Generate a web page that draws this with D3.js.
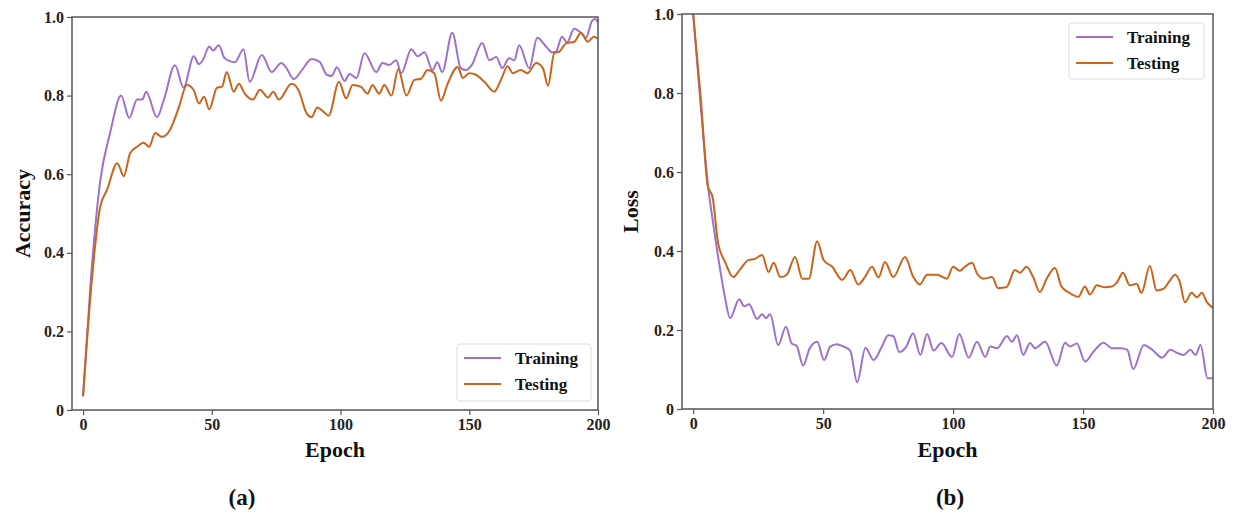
<!DOCTYPE html>
<html>
<head>
<meta charset="utf-8">
<script src="https://cdn.jsdelivr.net/npm/d3@7/dist/d3.min.js"></script>
<style>
  html, body { margin: 0; padding: 0; background: #fff; }
  svg { display: block; }
  text { font-family: "Liberation Serif", "Times New Roman", serif; font-weight: bold; }
</style>
</head>
<body>
<svg id="chart" width="1233" height="514"></svg>
<script>
// ---------- DATA ----------
const seriesNames = ["Training", "Testing"];
const xTicks = [0, 50, 100, 150, 200];
const yTicks = [0, 0.2, 0.4, 0.6, 0.8, 1.0];
const yTickLabels = ["0", "0.2", "0.4", "0.6", "0.8", "1.0"];
const panelLabels = ["(a)", "(b)"];
const yTitles = ["Accuracy", "Loss"];
const xTitle = "Epoch";

// Accuracy - Training
const accTrainEpoch = [0, 3, 6.6, 10.5, 14.8, 17.9, 21, 23, 24.5, 28.7, 31.4, 35.7, 39, 43, 45, 46.5, 49, 50.5, 52.7, 55, 59, 62.3, 64.7, 69.4, 73.3, 77, 79, 81.8, 85, 88.8, 91.9, 94.6, 96.5, 98.6, 101.6, 103.5, 106.2, 109.3, 113.9, 116.3, 118.9, 121.6, 123.6, 127.5, 130, 132.6, 135.7, 137.6, 139.5, 143.4, 146.7, 148.7, 151, 155, 157.8, 160.5, 162.8, 165.5, 167.5, 169.4, 173.3, 176.4, 179.8, 182.2, 183.7, 186, 188, 190.7, 193.3, 195.3, 197.7, 199, 200];
const accTrainVal   = [0.035, 0.33, 0.58, 0.705, 0.80, 0.743, 0.79, 0.79, 0.81, 0.745, 0.79, 0.877, 0.82, 0.90, 0.88, 0.89, 0.925, 0.915, 0.928, 0.895, 0.885, 0.918, 0.835, 0.903, 0.86, 0.883, 0.87, 0.842, 0.865, 0.893, 0.886, 0.853, 0.85, 0.872, 0.837, 0.855, 0.845, 0.908, 0.86, 0.883, 0.878, 0.89, 0.857, 0.918, 0.90, 0.91, 0.865, 0.885, 0.86, 0.96, 0.87, 0.865, 0.878, 0.934, 0.89, 0.898, 0.87, 0.895, 0.89, 0.928, 0.87, 0.947, 0.925, 0.91, 0.912, 0.95, 0.935, 0.97, 0.96, 0.947, 0.99, 0.995, 0.985];

// Accuracy - Testing
const accTestEpoch = [0, 3, 6.6, 9.3, 13.3, 15.8, 18.3, 21, 23.5, 25.7, 28, 30.6, 33.7, 37.2, 40.3, 42.9, 45, 47, 49, 52, 54, 55.8, 58.5, 60.5, 62.8, 66, 68.7, 71.9, 73.9, 76, 81, 83.6, 86.8, 88.7, 91, 93.2, 95.4, 99.4, 102.2, 104.7, 108, 110.5, 112.4, 115, 117, 119.8, 122.4, 125.6, 128.7, 131.3, 133.8, 136.4, 139, 141.6, 145.5, 147.5, 150, 152.6, 155.9, 159.7, 162.3, 164.9, 166.9, 170, 172.6, 176, 178.6, 180.6, 183, 185, 187.6, 190.8, 193.4, 196, 198.4, 200];
const accTestVal   = [0.035, 0.30, 0.515, 0.56, 0.628, 0.595, 0.654, 0.67, 0.68, 0.67, 0.705, 0.695, 0.712, 0.77, 0.827, 0.815, 0.78, 0.797, 0.765, 0.82, 0.823, 0.86, 0.81, 0.83, 0.805, 0.79, 0.815, 0.795, 0.81, 0.79, 0.83, 0.815, 0.755, 0.745, 0.77, 0.76, 0.749, 0.835, 0.793, 0.827, 0.822, 0.805, 0.827, 0.805, 0.827, 0.80, 0.867, 0.80, 0.84, 0.843, 0.865, 0.857, 0.787, 0.83, 0.873, 0.845, 0.857, 0.853, 0.835, 0.81, 0.84, 0.875, 0.857, 0.865, 0.857, 0.883, 0.87, 0.825, 0.908, 0.912, 0.933, 0.937, 0.96, 0.937, 0.95, 0.945];

// Loss - Training
const lossTrainEpoch = [0, 3, 5.8, 7.7, 10.4, 12.3, 14.2, 17.7, 19.6, 21.5, 24.6, 26.5, 28, 29.6, 32.7, 35.7, 37.9, 39.8, 42.3, 44.8, 47.7, 50.4, 52.7, 55.3, 57.8, 60.4, 63.1, 66.3, 69.4, 72.6, 75, 77, 79.3, 82, 84.6, 87.4, 90, 92.5, 95.5, 99.6, 102.4, 106, 109.2, 112.4, 114.3, 117, 120.7, 122.6, 124.6, 127, 129.6, 131.5, 135.4, 139.9, 143.1, 145, 147.6, 150.8, 154, 157.9, 161, 164.4, 167, 169.3, 173.4, 176.6, 180.4, 183.6, 186.2, 188.7, 191.3, 193.3, 195.2, 197.9, 200];
const lossTrainVal   = [1.0, 0.76, 0.56, 0.47, 0.352, 0.28, 0.23, 0.278, 0.26, 0.265, 0.228, 0.24, 0.23, 0.24, 0.162, 0.208, 0.166, 0.16, 0.11, 0.153, 0.17, 0.124, 0.158, 0.164, 0.158, 0.148, 0.068, 0.155, 0.124, 0.158, 0.187, 0.185, 0.144, 0.158, 0.192, 0.137, 0.19, 0.148, 0.167, 0.132, 0.19, 0.13, 0.17, 0.132, 0.158, 0.154, 0.185, 0.17, 0.187, 0.137, 0.167, 0.154, 0.17, 0.11, 0.168, 0.158, 0.166, 0.12, 0.145, 0.168, 0.154, 0.154, 0.15, 0.101, 0.162, 0.15, 0.13, 0.15, 0.142, 0.137, 0.15, 0.137, 0.162, 0.078, 0.078];

// Loss - Testing
const lossTestEpoch = [0, 3, 5.6, 7.5, 9.6, 12.3, 15.4, 18, 21.2, 23.8, 26.5, 29, 31, 33.5, 36, 39.2, 42, 44.5, 47.7, 50.2, 53.5, 57.3, 60.5, 63.5, 66, 68.8, 71.3, 73.8, 77, 81.5, 84.7, 87.2, 90, 93.8, 97.6, 100, 102.6, 104.5, 107.3, 109.2, 111.8, 115, 117.3, 120.5, 123.8, 125.7, 128.3, 130.8, 133.4, 136, 139.2, 141.7, 144.3, 148.2, 150.7, 152.7, 155.3, 158.5, 161, 163, 165.4, 168, 170.6, 172.5, 175.7, 178.3, 180.9, 183.4, 185.4, 187.3, 189.2, 191.8, 193.8, 195.7, 197.7, 200];
const lossTestVal   = [1.0, 0.78, 0.565, 0.535, 0.42, 0.372, 0.334, 0.353, 0.377, 0.38, 0.39, 0.347, 0.37, 0.334, 0.34, 0.385, 0.33, 0.33, 0.425, 0.377, 0.36, 0.327, 0.352, 0.315, 0.333, 0.36, 0.333, 0.372, 0.334, 0.385, 0.334, 0.315, 0.34, 0.34, 0.33, 0.36, 0.35, 0.36, 0.37, 0.343, 0.33, 0.334, 0.306, 0.308, 0.352, 0.345, 0.36, 0.334, 0.296, 0.33, 0.357, 0.31, 0.296, 0.284, 0.31, 0.29, 0.313, 0.308, 0.31, 0.32, 0.345, 0.313, 0.317, 0.294, 0.362, 0.30, 0.304, 0.325, 0.34, 0.32, 0.27, 0.294, 0.283, 0.294, 0.27, 0.256];

// ---------- STYLE / LAYOUT ----------
const colors = { Training: "#9d72cb", Testing: "#c8641c" };
const panels = [
  { left: 72, right: 598, top: 17, bottom: 410, xDomain: [-4.3, 200],
    series: [ { name: "Training", ep: accTrainEpoch, val: accTrainVal },
              { name: "Testing",  ep: accTestEpoch,  val: accTestVal } ],
    legend: { x: 457, y: 344, w: 134, h: 57 }, label: { x: 242, y: 497 }, yTitleX: 22 },
  { left: 682, right: 1213, top: 14, bottom: 409, xDomain: [-4.3, 200],
    series: [ { name: "Training", ep: lossTrainEpoch, val: lossTrainVal },
              { name: "Testing",  ep: lossTestEpoch,  val: lossTestVal } ],
    legend: { x: 1069, y: 23, w: 135, h: 56 }, label: { x: 950, y: 497 }, yTitleX: 630 }
];

const svg = d3.select("#chart");

panels.forEach((p, i) => {
  const x = d3.scaleLinear().domain(p.xDomain).range([p.left, p.right]);
  const y = d3.scaleLinear().domain([0, 1]).range([p.bottom, p.top]);
  const g = svg.append("g");

  const clipId = "clip" + i;
  svg.append("clipPath").attr("id", clipId).append("rect")
    .attr("x", p.left).attr("y", p.top - 2).attr("width", p.right - p.left).attr("height", p.bottom - p.top + 2);

  const line = d3.line().x(d => x(d[0])).y(d => y(d[1])).curve(d3.curveMonotoneX);
  p.series.forEach(s => {
    const pts = s.ep.map((e, k) => [e, s.val[k]]);
    g.append("path").datum(pts)
      .attr("clip-path", `url(#${clipId})`)
      .attr("fill", "none").attr("stroke", colors[s.name])
      .attr("stroke-width", 2).attr("stroke-linejoin", "round")
      .attr("d", line);
  });

  const xAxis = d3.axisBottom(x).tickValues(xTicks).tickSize(5).tickPadding(4).tickFormat(d3.format("d"));
  const yAxis = d3.axisLeft(y).tickValues(yTicks).tickSize(5).tickPadding(3).tickFormat((d, k) => yTickLabels[k]);
  const gx = g.append("g").attr("transform", `translate(0,${p.bottom})`).call(xAxis);
  const gy = g.append("g").attr("transform", `translate(${p.left},0)`).call(yAxis);
  [gx, gy].forEach(a => {
    a.select(".domain").remove();
    a.selectAll(".tick line").attr("stroke", "#555").attr("stroke-width", 1.2);
    a.selectAll(".tick text").attr("fill", "#222").style("font-size", "16px")
      .style("font-family", "'Liberation Serif', serif").style("font-weight", "bold");
  });

  g.append("rect").attr("x", p.left).attr("y", p.top)
    .attr("width", p.right - p.left).attr("height", p.bottom - p.top)
    .attr("fill", "none").attr("stroke", "#555").attr("stroke-width", 1.5);

  g.append("text").attr("x", (p.left + p.right) / 2).attr("y", 449)
    .attr("text-anchor", "middle").attr("dominant-baseline", "central")
    .style("font-size", "22px").attr("fill", "#111").text(xTitle);
  g.append("text").attr("transform", `translate(${p.yTitleX},${(p.top + p.bottom) / 2}) rotate(-90)`)
    .attr("text-anchor", "middle").attr("dominant-baseline", "central")
    .style("font-size", "22px").attr("fill", "#111").text(yTitles[i]);
  g.append("text").attr("x", p.label.x).attr("y", p.label.y).attr("text-anchor", "middle")
    .attr("dominant-baseline", "central").style("font-size", "23px").attr("fill", "#111").text(panelLabels[i]);

  const L = p.legend;
  const lg = g.append("g");
  lg.append("rect").attr("x", L.x).attr("y", L.y).attr("width", L.w).attr("height", L.h)
    .attr("rx", 3).attr("fill", "#fff").attr("fill-opacity", 0.85).attr("stroke", "#ddd").attr("stroke-width", 1);
  seriesNames.forEach((n, k) => {
    const cy = L.y + 14 + k * 26;
    lg.append("line").attr("x1", L.x + 7).attr("x2", L.x + 44).attr("y1", cy).attr("y2", cy)
      .attr("stroke", colors[n]).attr("stroke-width", 2);
    lg.append("text").attr("x", L.x + 58).attr("y", cy).attr("dominant-baseline", "central")
      .style("font-size", "17px").attr("fill", "#111").text(n);
  });
});
</script>
</body>
</html>
